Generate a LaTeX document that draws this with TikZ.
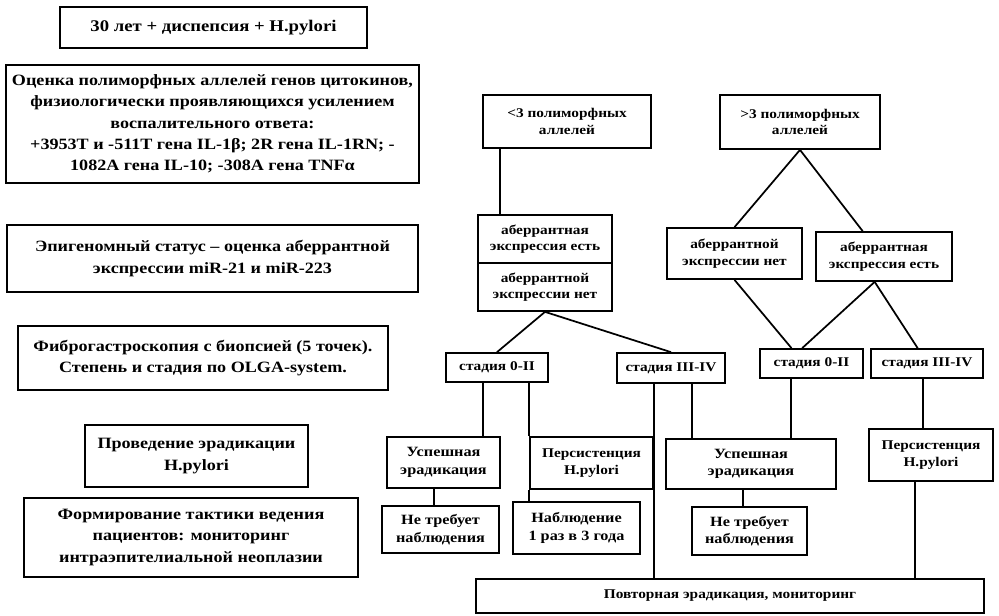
\documentclass[tikz,border=0pt]{standalone}
\usepackage{fontspec}
\setmainfont{Liberation Serif}[FakeStretch=1.15]
\usetikzlibrary{arrows.meta}

\tikzset{
  box/.style={draw, line width=1.3pt, align=center, inner sep=1pt,
    font=\bfseries\fontsize{11.8}{16}\selectfont},
  smallbox/.style={box, font=\bfseries\fontsize{10}{12.5}\selectfont},
  resultbox/.style={box, font=\bfseries\fontsize{10.6}{13}\selectfont},
  wh/.style 2 args={minimum width=#1*0.75pt, minimum height=#2*0.75pt},
  link/.style={line width=1.3pt}
}

\begin{document}
\begin{tikzpicture}[x=0.75pt,y=-0.75pt]
\useasboundingbox (0,0) rectangle (999,615);

% Left column
\node[box, wh={307}{41}, font=\bfseries\fontsize{12.2}{16}\selectfont] (start) at (213.5,27.5) {30 лет + диспепсия + H.pylori};
\node[box, wh={413}{118}] (alleles) at (212.5,124) {Оценка полиморфных аллелей генов цитокинов,\\
  физиологически проявляющихся усилением\\ воспалительного ответа:\\
  +3953T и -511T гена IL-1β; 2R гена IL-1RN; -\\ 1082A гена IL-10; -308A гена TNFα};
\node[box, wh={411}{67}] (epigen) at (212.5,258.5) {Эпигеномный статус – оценка аберрантной\\ экспрессии miR-21 и miR-223};
\node[box, wh={370}{64}] (fgs) at (203,358) {Фиброгастроскопия с биопсией (5 точек).\\ Степень и стадия по OLGA-system.};
\node[box, wh={223}{62}] (erad) at (196.5,456) {Проведение эрадикации\\ H.pylori};
\node[box, wh={334}{79}] (tactic) at (191,537.5) {Формирование тактики ведения\\ пациентов: мониторинг\\ интраэпителиальной неоплазии};

% Alleles
\node[smallbox, wh={168}{53}] (lessThree) at (567,121.5) {<3 полиморфных\\ аллелей};
\node[smallbox, wh={160}{54}] (moreThree) at (800,122) {>3 полиморфных\\ аллелей};

% Expression
\node[smallbox, wh={134}{48}] (aberYesL) at (545,239) {аберрантная\\ экспрессия есть};
\node[smallbox, wh={134}{48}] (aberNoL) at (545,287) {аберрантной\\ экспрессии нет};
\node[smallbox, wh={135}{51}] (aberNoR) at (734.5,253.5) {аберрантной\\ экспрессии нет};
\node[smallbox, wh={136}{49}] (aberYesR) at (884,256.5) {аберрантная\\ экспрессия есть};

% Stages
\node[smallbox, wh={102}{29}] (stageLowL) at (497,367.5) {стадия 0-II};
\node[smallbox, wh={108}{30}] (stageHighL) at (671,368) {стадия III-IV};
\node[smallbox, wh={103}{29}] (stageLowR) at (811.5,363.5) {стадия 0-II};
\node[smallbox, wh={112}{29}] (stageHighR) at (927,363.5) {стадия III-IV};

% Eradication result
\node[resultbox, wh={113}{51}] (successL) at (443.5,462.5) {Успешная\\ эрадикация};
\node[smallbox, wh={123}{52}] (persistL) at (591.5,463) {Персистенция\\ H.pylori};
\node[resultbox, wh={170}{50}] (successM) at (751,464) {Успешная\\ эрадикация};
\node[smallbox, wh={124}{52}] (persistR) at (931,455) {Персистенция\\ H.pylori};

% Follow-up
\node[resultbox, wh={117}{47}] (noObsL) at (440.5,529.5) {Не требует\\ наблюдения};
\node[resultbox, wh={127}{52}] (observe) at (576.5,528) {Наблюдение\\ 1 раз в 3 года};
\node[resultbox, wh={115}{48}] (noObsM) at (749.5,531) {Не требует\\ наблюдения};
\node[smallbox, wh={508}{34}] (repeat) at (730,596) {Повторная эрадикация, мониторинг};

% Tree links
\draw[link] ([xshift=-50pt]lessThree.south) -- ([xshift=-50pt]lessThree.south |- aberYesL.north);
\draw[link] (aberNoL.south) -- (stageLowL.north);
\draw[link] (aberNoL.south) -- (stageHighL.north);
\draw[link] (moreThree.south) -- (aberNoR.north);
\draw[link] (moreThree.south) -- ([xshift=-16pt]aberYesR.north);
\draw[link] (aberNoR.south) -- ([xshift=-15pt]stageLowR.north);
\draw[link] ([xshift=-7pt]aberYesR.south) -- ([xshift=-7pt]stageLowR.north);
\draw[link] ([xshift=-7pt]aberYesR.south) -- ([xshift=-7pt]stageHighR.north);

% Stage links
\draw[link] ([xshift=-10.5pt]stageLowL.south) -- ([xshift=-10.5pt]stageLowL.south |- successL.north);
\draw[link] (persistL.north west |- stageLowL.south) -- (persistL.north west);
\draw[link] (persistL.south west) -- (persistL.south west |- observe.north);
\draw[link] (persistL.north east |- stageHighL.south) -- (persistL.north east |- repeat.north);
\draw[link] ([xshift=15.75pt]stageHighL.south) -- ([xshift=15.75pt]stageHighL.south |- successM.north);
\draw[link] ([xshift=-15.4pt]stageLowR.south) -- ([xshift=-15.4pt]stageLowR.south |- successM.north);
\draw[link] ([xshift=-3pt]stageHighR.south) -- ([xshift=-3pt]stageHighR.south |- persistR.north);
\draw[link] ([xshift=-7pt]successL.south) -- ([xshift=-7pt]successL.south |- noObsL.north);
\draw[link] ([xshift=-6pt]successM.south) -- ([xshift=-6pt]successM.south |- noObsM.north);
\draw[link] ([xshift=-12pt]persistR.south) -- ([xshift=-12pt]persistR.south |- repeat.north);

\end{tikzpicture}
\end{document}
